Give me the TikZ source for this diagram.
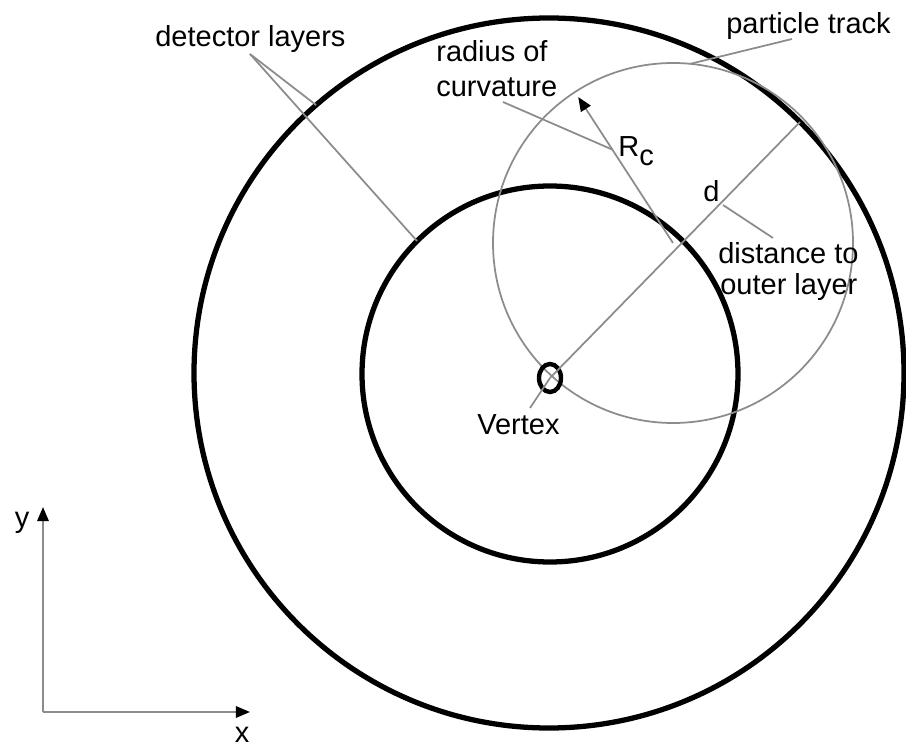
\documentclass[tikz,border=0pt]{standalone}
\usepackage{fontspec}
\setmainfont{Liberation Sans}
\usetikzlibrary{arrows.meta,calc}
\newcommand{\lblfont}{\fontsize{16.5pt}{19pt}\selectfont}
\tikzset{
  det/layer/.style={draw, line width=3pt},
  det/vertex/.style={draw, line width=2.5pt},
  det/track/.style={draw=black!45, line width=1pt},
  det/leader/.style={draw=black!45, line width=1pt},
  det/label/.style={inner sep=0pt, anchor=base west, font=\lblfont},
  det/tip/.style={-{Triangle[length=8pt,width=6.5pt,color=black]}}
}
\begin{document}
\begin{tikzpicture}[x=0.02cm, y=0.02cm]
  \useasboundingbox (0,0) rectangle (906,748);
  \coordinate (outerc) at (549,375);
  \coordinate (innerc) at (550,374);
  \coordinate (vtx) at (550,370);
  \coordinate (trackc) at (673,505);

  % layers, track and vertex
  \draw[det/layer] (outerc) circle [radius=355];
  \draw[det/layer] (innerc) circle [radius=188];
  \draw[det/track] (trackc) circle [radius=180];
  \draw[det/vertex] (vtx) ellipse [x radius=11, y radius=14];

  \coordinate (rctip) at ($(trackc)+(123:174)$);
  \coordinate (dend) at ($(outerc)+(45:355)$);
  \draw[det/leader, det/tip] (trackc) -- (rctip);
  \draw[det/leader] (vtx) -- (dend);

  % labels
  \node[det/label] (detlbl) at (155,701) {detector layers};
  \node[det/label] (radlbl) at (436,686) {radius of};
  \node[det/label] (curvlbl) at (436,651) {curvature};
  \node[det/label] (tracklbl) at (726,714) {particle track};
  \node[det/label] (rclbl) at (618,591) {R\raisebox{-0.18cm}{c}};
  \node[det/label] (dlbl) at (703,546) {d};
  \node[det/label] (distlbl) at (718,484) {distance to};
  \node[det/label] (outlbl) at (720,453) {outer layer};
  \node[det/label] (vtxlbl) at (477,314) {Vertex};

  % leader lines
  \coordinate (detpt) at (250,694);
  \coordinate (detouter) at ($(outerc)+(131:355)$);
  \coordinate (detinner) at ($(innerc)+(135:188)$);
  \coordinate (radpt) at (503,646);
  \coordinate (rcpt) at ($(trackc)!0.64!(rctip)$);
  \coordinate (trackpt) at (792,709);
  \coordinate (trackon) at ($(trackc)+(84.5:180)$);
  \coordinate (distpt) at (773,510);
  \coordinate (dpt) at (723,543);
  \coordinate (vtxpt) at (530,340);
  \draw[det/leader] (detpt) -- (detouter);
  \draw[det/leader] (detpt) -- (detinner);
  \draw[det/leader] (radpt) -- (rcpt);
  \draw[det/leader] (trackpt) -- (trackon);
  \draw[det/leader] (dpt) -- (distpt);
  \draw[det/leader] (vtxpt) -- (vtx);

  % axes
  \coordinate (orig) at (43,36);
  \coordinate (ytip) at (43,241);
  \coordinate (xtip) at (250,36);
  \draw[det/leader, det/tip] (orig) -- (ytip);
  \draw[det/leader, det/tip] (orig) -- (xtip);
  \node[det/label, anchor=base] (ylbl) at (22,221) {y};
  \node[det/label, anchor=base] (xlbl) at (242,6) {x};
\end{tikzpicture}
\end{document}
